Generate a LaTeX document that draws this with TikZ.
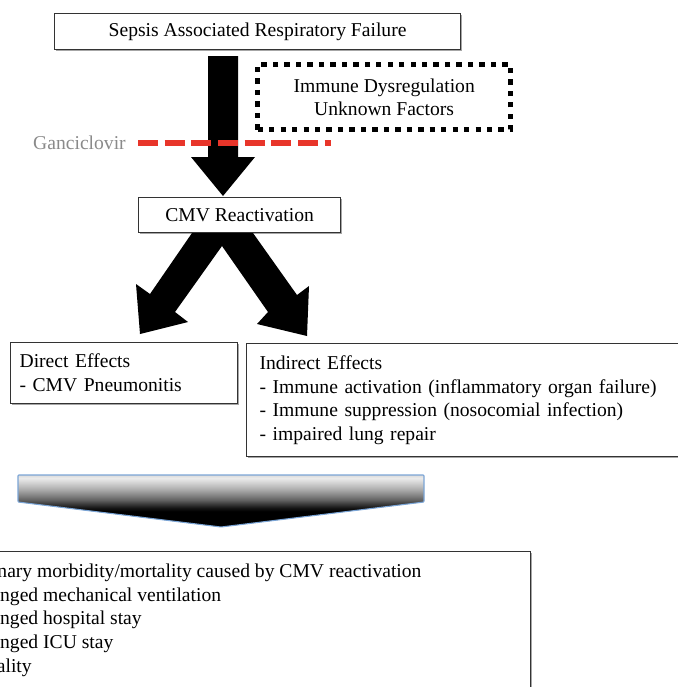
\documentclass[tikz,border=0pt]{standalone}
\usepackage{fontspec}
\setmainfont{Liberation Serif}
\usetikzlibrary{shadows}
\definecolor{boxline}{HTML}{333333}
\definecolor{gancired}{HTML}{E8352A}
\definecolor{gancigray}{HTML}{8A8A8A}
\definecolor{arrowedge}{HTML}{7BA5D6}
\pgfdeclareverticalshading{fadearrow}{100bp}{color(0bp)=(black); color(25bp)=(black); color(40bp)=(black); color(43bp)=(black!93); color(46bp)=(black!82); color(51bp)=(black!62); color(56bp)=(black!47); color(60.6bp)=(black!34); color(67.3bp)=(black!18); color(72bp)=(black!8); color(75bp)=(black!14); color(100bp)=(black!14)}
\tikzset{
  txt/.style={font=\fontsize{14.7pt}{17.8pt}\selectfont},
  box/.style={txt, draw=boxline, line width=0.9pt, fill=white, rectangle,
    drop shadow={shadow xshift=1.1pt, shadow yshift=-1.1pt, fill=black, opacity=0.35}},
  dotbox/.style={txt, draw=black, line width=4pt, dash pattern=on 4pt off 4.6pt, rectangle, align=center},
  blockarrow/.style={fill=black, draw=none},
  gancline/.style={draw=gancired, line width=4.5pt, dash pattern=on 15pt off 5pt},
}
\begin{document}
\begin{tikzpicture}[x=0.75pt,y=-0.75pt]
\useasboundingbox (0,0) rectangle (678,687);
\clip (0,0) rectangle (678,687);

% top box
\node[box, anchor=north west, minimum width=304.5pt, minimum height=27pt, inner sep=0pt] (sepsis) at (54,13) {Sepsis Associated Respiratory Failure};

% dotted box
\node[dotbox, anchor=north west, minimum width=189.75pt, minimum height=48.75pt, inner sep=0pt] (immune) at (255,62) {Immune Dysregulation\\Unknown Factors};

% down arrow
\fill[blockarrow] (208,56) -- (238,56) -- (238,157) -- (255,157) -- (223,196) -- (191,157) -- (208,157) -- cycle;

% Ganciclovir
\node[txt, text=gancigray, anchor=east, inner sep=0pt] (ganci) at (126,143) {Ganciclovir};
\coordinate (gend) at (331,143);
\draw[gancline] ([xshift=9pt]ganci.east) -- (gend);

% CMV box
\node[box, anchor=north west, minimum width=151.5pt, minimum height=26.25pt, inner sep=0pt] (cmv) at (138,197) {CMV Reactivation};

% split arrow
\fill[blockarrow] (192,233) -- (150,294) -- (136,284) -- (140,334) -- (188,322) -- (175,312)
  -- (222,246) -- (268,312) -- (257,324) -- (307,336) -- (309,286) -- (297,295) -- (253,233) -- cycle;

% Direct effects
\node[box, anchor=north west, minimum height=45.75pt, text width=156.75pt, inner xsep=6.75pt, inner ysep=0pt, align=left] (direct) at (10,342) {Direct Effects\\- CMV Pneumonitis};

% Indirect effects
\node[box, anchor=north west, minimum height=84.75pt, text width=318pt, inner xsep=9.75pt, inner ysep=0pt, align=left] (indirect) at (246,343) {Indirect Effects\\- Immune activation (inflammatory organ failure)\\- Immune suppression (nosocomial infection)\\- impaired lung repair};

% gradient arrow
\shade[shading=fadearrow, draw=arrowedge, line width=0.8pt, rounded corners=0.6pt]
  (18,475) -- (424,475) -- (424,502) -- (221,527) -- (18,502) -- cycle;

% bottom box
\node[box, anchor=north west, minimum width=457.5pt, minimum height=126.75pt, inner sep=0pt] (outcome) at (-80,551) {};
\node[txt, anchor=north west, inner sep=0pt, align=left] (outcometext) at (-54,563.5) {Pulmonary morbidity/mortality caused by CMV reactivation\\- Prolonged mechanical ventilation\\- Prolonged hospital stay\\- Prolonged ICU stay\\- Mortality};
\end{tikzpicture}
\end{document}
